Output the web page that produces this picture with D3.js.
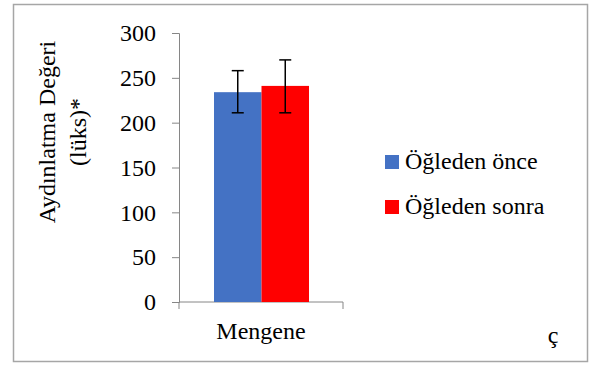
<!DOCTYPE html>
<html>
<head>
<meta charset="utf-8">
<script src="https://cdn.jsdelivr.net/npm/d3@7"></script>
</head>
<body style="margin:0">
<svg id="chart" width="591" height="365">
<rect x="13.5" y="4.5" width="574" height="357" fill="#fff" stroke="#a6a6a6" stroke-width="1.5"></rect>
<text x="553" y="343" text-anchor="middle" style="font-family:'Liberation Serif';font-size:24px">ç</text>
</svg>
<script>
const categories = ["Mengene"];
const seriesNames = ["Öğleden önce", "Öğleden sonra"];
const seriesColors = ["#4472C4", "#FF0000"];
const values = [234, 241];
const errLow = [211, 211];
const errHigh = [258, 270];
const yTicks = [0, 50, 100, 150, 200, 250, 300];

const FS = 24;
const width = 591, height = 365;
const margin = { top: 33, left: 179, bottom: 63, right: 248 };
const iwidth = width - margin.left - margin.right;
const iheight = height - margin.top - margin.bottom;

const svg = d3.select("#chart");

const serif = (sel) => sel.attr("style", `font-family:'Liberation Serif';font-size:${FS}px`).attr("fill", "#000");

const g = svg.append("g").attr("transform", `translate(${margin.left},${margin.top})`);

const y = d3.scaleLinear().domain([0, 300]).range([iheight, 0]);
const x = d3.scaleBand().domain(categories).range([0, iwidth]);
const xs = d3.scaleBand().domain(seriesNames).range([35, x.bandwidth() - 34]);

// y axis
const yAxis = g.append("g")
  .call(d3.axisLeft(y).tickValues(yTicks).tickSize(7).tickPadding(16));
yAxis.select(".domain").attr("stroke", "#868686");
yAxis.selectAll(".tick line").attr("stroke", "#868686");
yAxis.selectAll(".tick text").call(serif);

// x axis
const xAxis = g.append("g").attr("transform", `translate(0,${iheight})`)
  .call(d3.axisBottom(x).tickSize(0).tickPadding(20));
xAxis.select(".domain").attr("stroke", "#868686").attr("d", `M0,7V0H${iwidth}V7`);
xAxis.selectAll(".tick text").call(serif);

// bars
categories.forEach((c) => {
  g.selectAll(".bar")
    .data(seriesNames)
    .enter().append("rect")
    .attr("x", (d) => x(c) + xs(d))
    .attr("y", (d, i) => y(values[i]))
    .attr("width", xs.bandwidth())
    .attr("height", (d, i) => iheight - y(values[i]))
    .attr("fill", (d, i) => seriesColors[i]);

  const eb = g.selectAll(".err")
    .data(seriesNames)
    .enter().append("g")
    .attr("transform", (d) => `translate(${x(c) + xs(d) + xs.bandwidth() / 2},0)`);
  eb.append("line").attr("y1", (d, i) => y(errLow[i])).attr("y2", (d, i) => y(errHigh[i]))
    .attr("stroke", "#000").attr("stroke-width", 1.5);
  eb.append("line").attr("x1", -6).attr("x2", 6)
    .attr("y1", (d, i) => y(errHigh[i])).attr("y2", (d, i) => y(errHigh[i]))
    .attr("stroke", "#000").attr("stroke-width", 1.5);
  eb.append("line").attr("x1", -6).attr("x2", 6)
    .attr("y1", (d, i) => y(errLow[i])).attr("y2", (d, i) => y(errLow[i]))
    .attr("stroke", "#000").attr("stroke-width", 1.5);
});

// y title
const title = svg.append("text")
  .attr("transform", "translate(55,132) rotate(-90)")
  .attr("text-anchor", "middle").call(serif);
title.append("tspan").attr("x", 0).attr("dy", 0).text("Aydınlatma Değeri");
title.append("tspan").attr("x", 0).attr("dy", 31).text("(lüks)*");

// legend
const legend = svg.append("g").attr("transform", "translate(385,155)");
const li = legend.selectAll("g").data(seriesNames).enter().append("g")
  .attr("transform", (d, i) => `translate(0,${i * 45})`);
li.append("rect").attr("width", 14).attr("height", 14).attr("fill", (d, i) => seriesColors[i]);
li.append("text").attr("x", 20).attr("y", 14).call(serif).text((d) => d);
</script>
</body>
</html>
